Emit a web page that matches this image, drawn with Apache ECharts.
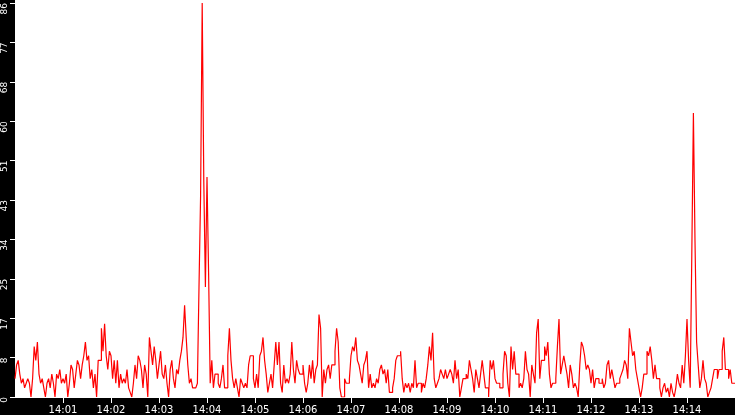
<!DOCTYPE html>
<html>
<head>
<meta charset="utf-8">
<script src="https://cdn.jsdelivr.net/npm/echarts@6/dist/echarts.min.js"></script>
<style>
html, body { margin: 0; padding: 0; background: #fff; }
#e_chart_1 { width: 735px; height: 415px; }
</style>
</head>
<body>
<div id="e_chart_1"></div>
<script>
// samples every 2 seconds, starting at 14:00:00 (one row per minute)
var startHour = 14;
var stepSeconds = 2;
var values = [
    4, 7, 8, 5, 3, 4, 2, 3, 4, 3, 0, 4, 11, 8, 12, 5, 3, 4, 2, 0, 3, 4, 2, 5, 3, 0, 5, 4, 6, 3,
    4, 3, 5, 0, 3, 7, 6, 2, 5, 8, 7, 4, 7, 9, 12, 8, 9, 4, 6, 2, 5, 0, 8, 8, 15, 10, 16, 9, 6, 10,
    9, 4, 8, 3, 8, 2, 5, 3, 4, 3, 6, 2, 1, 0, 3, 7, 4, 9, 8, 6, 2, 7, 5, 0, 13, 10, 7, 11, 8, 4,
    7, 10, 5, 4, 7, 3, 0, 6, 8, 4, 2, 6, 5, 8, 10, 13, 20, 13, 7, 3, 4, 2, 2, 2, 3, 24, 44, 86, 47, 24,
    48, 27, 3, 8, 2, 5, 5, 3, 2, 4, 7, 2, 2, 9, 15, 8, 4, 2, 4, 2, 0, 4, 3, 2, 3, 2, 7, 9, 9, 4,
    2, 5, 2, 9, 10, 13, 8, 5, 1, 3, 5, 2, 7, 12, 7, 12, 3, 1, 7, 3, 4, 3, 5, 12, 6, 3, 8, 6, 5, 5,
    7, 3, 1, 3, 7, 4, 8, 3, 6, 7, 18, 15, 0, 6, 3, 6, 7, 4, 7, 7, 10, 15, 12, 2, 0, 0, 4, 3, 3, 4,
    9, 11, 10, 13, 8, 7, 5, 3, 7, 8, 10, 2, 5, 2, 3, 2, 4, 3, 6, 7, 5, 6, 3, 6, 1, 1, 2, 4, 8, 9,
    9, 10, 4, 1, 3, 2, 3, 1, 3, 2, 8, 2, 3, 3, 1, 3, 2, 4, 7, 11, 8, 14, 4, 2, 3, 4, 6, 5, 4, 6,
    4, 5, 6, 5, 3, 8, 4, 6, 0, 2, 4, 4, 5, 4, 8, 6, 4, 1, 6, 4, 2, 5, 8, 5, 2, 2, 0, 8, 6, 8,
    4, 3, 3, 2, 2, 5, 10, 9, 3, 0, 11, 6, 10, 5, 5, 2, 3, 2, 4, 10, 6, 5, 0, 7, 5, 3, 14, 17, 4, 8,
    8, 11, 9, 12, 5, 2, 3, 3, 4, 11, 17, 5, 7, 9, 7, 5, 2, 7, 5, 2, 3, 2, 0, 7, 12, 11, 9, 6, 7, 6,
    3, 6, 2, 4, 4, 3, 3, 4, 2, 3, 7, 8, 4, 6, 4, 2, 3, 3, 4, 5, 6, 8, 7, 4, 15, 12, 9, 10, 6, 4,
    2, 0, 2, 5, 5, 10, 9, 11, 8, 4, 7, 4, 4, 2, 0, 2, 3, 1, 2, 0, 3, 1, 0, 2, 5, 3, 2, 7, 3, 9,
    17, 8, 2, 31, 62, 34, 12, 7, 2, 4, 8, 4, 3, 0, 1, 2, 4, 6, 6, 4, 6, 6, 10, 13, 6, 6, 4, 6, 3, 3,
    3
];
var yMax = 86;
var yStep = 8.6;
var xMaxSeconds = 900;

var points = [];
for (var i = 0; i < values.length; i++) {
    points.push([i * stepSeconds, values[i]]);
}

function timeLabel(sec) {
    var m = Math.round(sec / 60);
    var h = startHour + Math.floor(m / 60);
    m = m % 60;
    return h + ':' + (m < 10 ? '0' + m : m);
}

var myChart = echarts.init(document.getElementById('e_chart_1'));
var option = {
    animation: false,
    backgroundColor: '#fff',
    textStyle: { fontFamily: 'DejaVu Sans' },
    // black strips behind the axes
    graphic: [{
        type: 'rect',
        z: -10,
        shape: { x: 0, y: 0, width: 15, height: 415 },
        style: { fill: '#000' }
    }, {
        type: 'rect',
        z: -10,
        shape: { x: 0, y: 398, width: 735, height: 17 },
        style: { fill: '#000' }
    }],
    grid: {
        left: 15,
        right: 0,
        top: 0,
        bottom: 17
    },
    xAxis: {
        type: 'value',
        z: 5,
        min: 0,
        max: xMaxSeconds,
        interval: 60,
        axisLine: { show: false },
        axisTick: { show: true, length: 6, lineStyle: { color: '#fff' } },
        splitLine: { show: false },
        axisLabel: {
            color: '#fff',
            fontSize: 10,
            margin: 8,
            showMinLabel: false,
            showMaxLabel: false,
            formatter: timeLabel
        }
    },
    yAxis: {
        type: 'value',
        z: 5,
        min: 0,
        max: yMax,
        interval: yStep,
        axisLine: { show: false },
        axisTick: { show: true, length: 5, lineStyle: { color: '#fff' } },
        splitLine: { show: false },
        axisLabel: {
            color: '#fff',
            fontSize: 9,
            rotate: 90,
            margin: 10,
            align: 'right',
            verticalAlign: 'middle',
            formatter: function (v) {
                return Math.floor(v + 0.001);
            }
        }
    },
    series: [{
        type: 'line',
        step: 'end',
        showSymbol: false,
        data: points,
        lineStyle: { color: '#ff0000', width: 1.2 }
    }]
};
myChart.setOption(option);
</script>
</body>
</html>
